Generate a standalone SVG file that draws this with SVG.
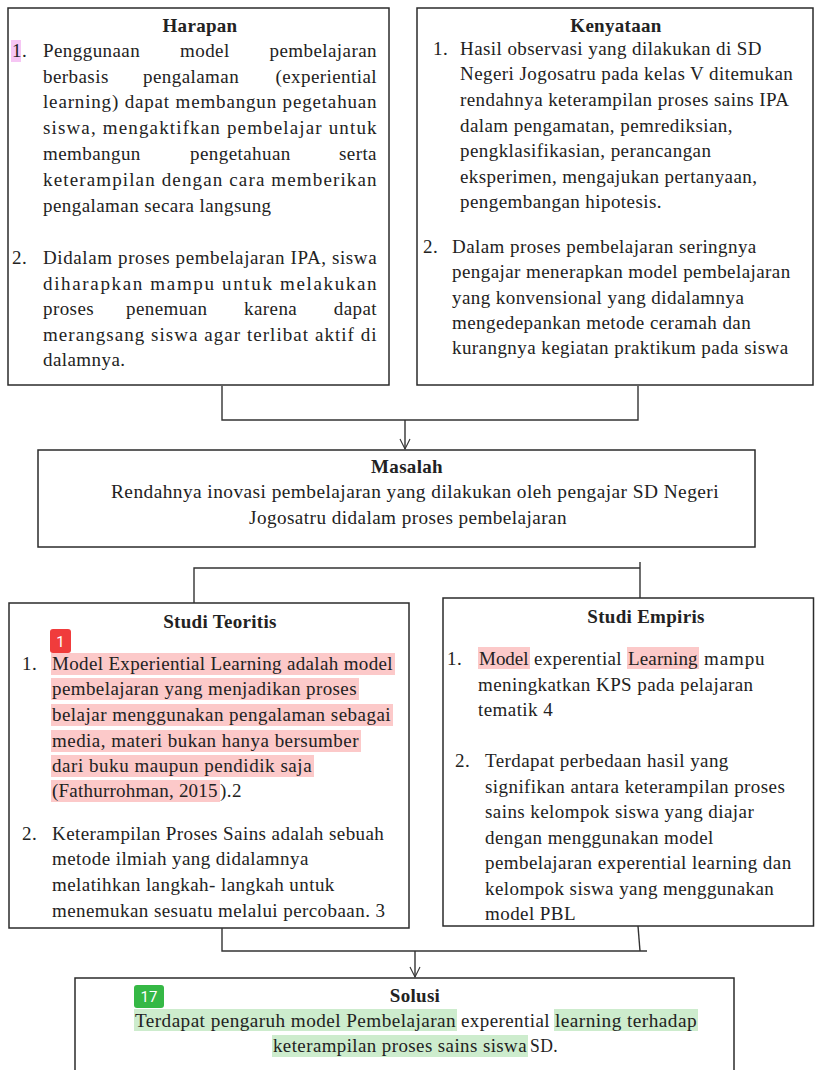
<svg xmlns="http://www.w3.org/2000/svg" width="815" height="1070" viewBox="0 0 815 1070">
<style>
  .box{fill:#fff;stroke:#2b2b2b;stroke-width:1.5}
  .t{font-family:"Liberation Serif","Times New Roman",serif;font-size:19px;fill:#222;letter-spacing:0.43px}
  .b{font-weight:bold;text-anchor:middle;letter-spacing:0.3px}
  .m{text-anchor:middle}
  .e{text-anchor:end}
  .hp{fill:#fcc9c9}
  .hg{fill:#cdeccd}
  .conn{fill:none;stroke:#333;stroke-width:1.4}
  .badge{font-family:Roboto,"Liberation Sans",sans-serif;font-size:15px;fill:#fff;text-anchor:middle}
</style>
<defs>
  <marker id="arr" viewBox="0 0 12 12" refX="11" refY="6" markerWidth="12" markerHeight="12" markerUnits="userSpaceOnUse" orient="auto">
    <path d="M1,1 L11,6 L1,11" fill="none" stroke="#333" stroke-width="1.1"/>
  </marker>
</defs>
<rect width="815" height="1070" fill="#fff"/>

<g id="harapan">
  <rect class="box" x="8" y="8" width="381" height="377"/>
  <rect x="11" y="40" width="10" height="22" fill="#f6c6f4"/>
  <text class="t b" x="200" y="32">Harapan</text>
  <text class="t" x="12" y="57">1.</text>
  <text class="t" x="43" y="57">Penggunaan</text>
  <text class="t" x="180" y="57">model</text>
  <text class="t e" x="377" y="57">pembelajaran</text>
  <text class="t" x="43" y="83">berbasis</text>
  <text class="t" x="143" y="83">pengalaman</text>
  <text class="t e" x="377" y="83">(experiential</text>
  <text class="t" x="43" y="108" textLength="334" lengthAdjust="spacing">learning) dapat membangun pegetahuan</text>
  <text class="t" x="43" y="134" textLength="334" lengthAdjust="spacing">siswa, mengaktifkan pembelajar untuk</text>
  <text class="t" x="43" y="160">membangun</text>
  <text class="t" x="190" y="160">pengetahuan</text>
  <text class="t e" x="377" y="160">serta</text>
  <text class="t" x="43" y="186" textLength="334" lengthAdjust="spacing">keterampilan dengan cara memberikan</text>
  <text class="t" x="43" y="212">pengalaman secara langsung</text>
  <text class="t" x="12" y="264">2.</text>
  <text class="t" x="43" y="264" textLength="334" lengthAdjust="spacing">Didalam proses pembelajaran IPA, siswa</text>
  <text class="t" x="43" y="290" textLength="334" lengthAdjust="spacing">diharapkan mampu untuk melakukan</text>
  <text class="t" x="43" y="315">proses</text>
  <text class="t" x="126" y="315">penemuan</text>
  <text class="t" x="244" y="315">karena</text>
  <text class="t e" x="377" y="315">dapat</text>
  <text class="t" x="43" y="341" textLength="334" lengthAdjust="spacing">merangsang siswa agar terlibat aktif di</text>
  <text class="t" x="43" y="366">dalamnya.</text>
</g>

<g id="kenyataan">
  <rect class="box" x="417" y="8" width="396" height="377"/>
  <text class="t b" x="616" y="32">Kenyataan</text>
  <text class="t" x="433" y="55">1.</text>
  <text class="t" x="460" y="55">Hasil observasi yang dilakukan di SD</text>
  <text class="t" x="460" y="80">Negeri Jogosatru pada kelas V ditemukan</text>
  <text class="t" x="460" y="106">rendahnya keterampilan proses sains IPA</text>
  <text class="t" x="460" y="132">dalam pengamatan, pemrediksian,</text>
  <text class="t" x="460" y="157">pengklasifikasian, perancangan</text>
  <text class="t" x="460" y="183">eksperimen, mengajukan pertanyaan,</text>
  <text class="t" x="460" y="208">pengembangan hipotesis.</text>
  <text class="t" x="423" y="253">2.</text>
  <text class="t" x="452" y="253">Dalam proses pembelajaran seringnya</text>
  <text class="t" x="452" y="278">pengajar menerapkan model pembelajaran</text>
  <text class="t" x="452" y="304">yang konvensional yang didalamnya</text>
  <text class="t" x="452" y="329">mengedepankan metode ceramah dan</text>
  <text class="t" x="452" y="354">kurangnya kegiatan praktikum pada siswa</text>
</g>

<g id="masalah">
  <rect class="box" x="38" y="450" width="717" height="97"/>
  <text class="t b" x="407" y="473">Masalah</text>
  <text class="t" x="111" y="498" textLength="608" lengthAdjust="spacingAndGlyphs">Rendahnya inovasi pembelajaran yang dilakukan oleh pengajar SD Negeri</text>
  <text class="t" x="249" y="524" textLength="318" lengthAdjust="spacingAndGlyphs">Jogosatru didalam proses pembelajaran</text>
</g>

<g id="studi-teoritis">
  <rect class="box" x="9" y="603" width="400" height="325"/>
  <text class="t b" x="220" y="628">Studi Teoritis</text>
  <rect class="hp" x="51" y="653" width="344" height="22"/>
  <rect class="hp" x="51" y="678" width="308" height="22"/>
  <rect class="hp" x="51" y="704" width="342" height="22"/>
  <rect class="hp" x="51" y="730" width="310" height="22"/>
  <rect class="hp" x="51" y="755" width="263" height="22"/>
  <rect class="hp" x="51" y="780" width="169" height="22"/>
  <rect x="50" y="629" width="21" height="24" rx="3" fill="#f03c3c"/>
  <text class="badge" x="60.5" y="646.5">1</text>
  <text class="t" x="22" y="670">1.</text>
  <text class="t" x="52" y="670" textLength="341" lengthAdjust="spacing">Model Experiential Learning adalah model</text>
  <text class="t" x="52" y="695" textLength="305" lengthAdjust="spacing">pembelajaran yang menjadikan proses</text>
  <text class="t" x="52" y="721" textLength="339" lengthAdjust="spacing">belajar menggunakan pengalaman sebagai</text>
  <text class="t" x="52" y="747" textLength="307" lengthAdjust="spacing">media, materi bukan hanya bersumber</text>
  <text class="t" x="52" y="772" textLength="260" lengthAdjust="spacing">dari buku maupun pendidik saja</text>
  <text class="t" x="52" y="797" textLength="166" lengthAdjust="spacing">(Fathurrohman, 2015</text>
  <text class="t" x="220" y="797">).2</text>
  <text class="t" x="22" y="840">2.</text>
  <text class="t" x="52" y="840">Keterampilan Proses Sains adalah sebuah</text>
  <text class="t" x="52" y="865">metode ilmiah yang didalamnya</text>
  <text class="t" x="52" y="891">melatihkan langkah- langkah untuk</text>
  <text class="t" x="52" y="917">menemukan sesuatu melalui percobaan. 3</text>
</g>

<g id="studi-empiris">
  <rect class="box" x="443" y="598" width="370.5" height="328"/>
  <text class="t b" x="646" y="623">Studi Empiris</text>
  <rect class="hp" x="478" y="647" width="52" height="22"/>
  <rect class="hp" x="627" y="647" width="72" height="22"/>
  <text class="t" x="447" y="665">1.</text>
  <text class="t" x="479" y="665" textLength="50" lengthAdjust="spacing">Model</text>
  <text class="t" x="534" y="665" textLength="88" lengthAdjust="spacing">experential</text>
  <text class="t" x="628" y="665" textLength="70" lengthAdjust="spacing">Learning</text>
  <text class="t" x="704" y="665" textLength="61" lengthAdjust="spacing">mampu</text>
  <text class="t" x="478" y="691">meningkatkan KPS pada pelajaran</text>
  <text class="t" x="478" y="716">tematik 4</text>
  <text class="t" x="455" y="767">2.</text>
  <text class="t" x="485" y="767">Terdapat perbedaan hasil yang</text>
  <text class="t" x="485" y="793">signifikan antara keterampilan proses</text>
  <text class="t" x="485" y="818">sains kelompok siswa yang diajar</text>
  <text class="t" x="485" y="844">dengan menggunakan model</text>
  <text class="t" x="485" y="869">pembelajaran experential learning dan</text>
  <text class="t" x="485" y="895">kelompok siswa yang menggunakan</text>
  <text class="t" x="485" y="920">model PBL</text>
</g>

<g id="solusi">
  <rect class="box" x="75" y="978" width="659" height="110"/>
  <rect class="hg" x="134" y="1009" width="323" height="22"/>
  <rect class="hg" x="554" y="1009" width="144" height="22"/>
  <rect class="hg" x="272" y="1035" width="256" height="22"/>
  <rect x="134" y="985" width="30" height="23" rx="3" fill="#35b845"/>
  <text class="badge" x="149" y="1002">17</text>
  <text class="t b" x="415" y="1002">Solusi</text>
  <text class="t" x="135" y="1027" textLength="321" lengthAdjust="spacingAndGlyphs">Terdapat pengaruh model Pembelajaran</text>
  <text class="t" x="461" y="1027" textLength="89" lengthAdjust="spacingAndGlyphs">experential</text>
  <text class="t" x="555" y="1027" textLength="142" lengthAdjust="spacingAndGlyphs">learning terhadap</text>
  <text class="t" x="273" y="1052" textLength="254" lengthAdjust="spacingAndGlyphs">keterampilan proses sains siswa</text>
  <text class="t" x="530" y="1052" textLength="28" lengthAdjust="spacingAndGlyphs">SD.</text>
</g>

<g id="connectors">
  <polyline class="conn" points="222,386 222,420 638,420 638,386"/>
  <line class="conn" x1="405" y1="420" x2="405" y2="449" marker-end="url(#arr)"/>
  <polyline class="conn" points="194,603 194,568 640,568"/>
  <line class="conn" x1="640" y1="562" x2="640" y2="598"/>
  <polyline class="conn" points="222,928 222,951 647,951"/>
  <line class="conn" x1="638" y1="926" x2="640" y2="951"/>
  <line class="conn" x1="415" y1="951" x2="415" y2="977" marker-end="url(#arr)"/>
</g>
</svg>
